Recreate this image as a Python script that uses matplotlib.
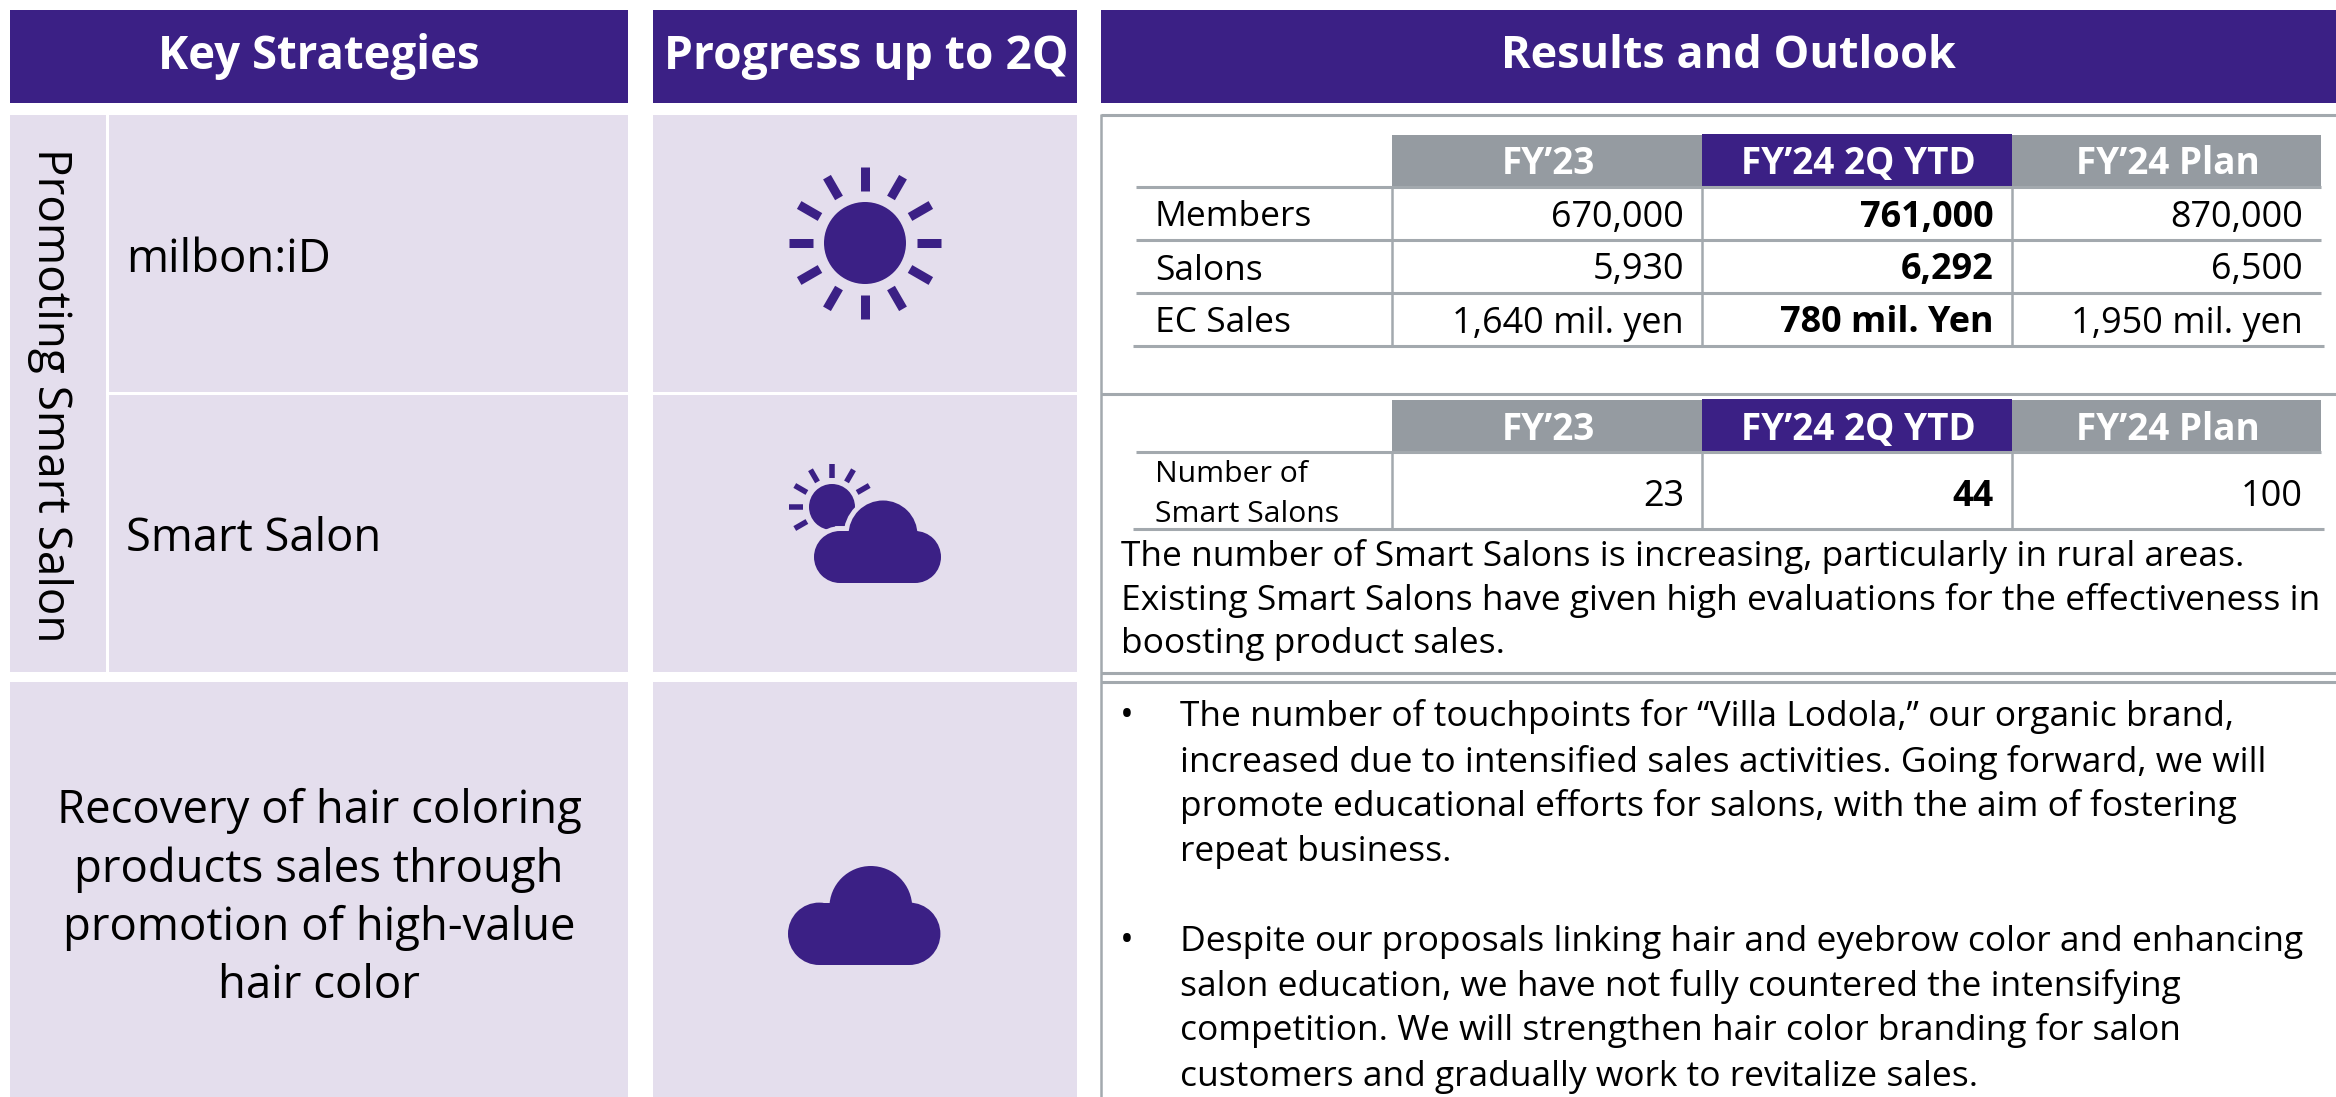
import matplotlib
matplotlib.use('Agg')
import matplotlib.pyplot as plt
from matplotlib.patches import Rectangle, Circle
import numpy as np

plt.rcParams['font.family'] = ['Open Sans', 'DejaVu Sans']

W, H = 2336, 1097
PURPLE = '#3B2085'
LIGHT = '#E4DEED'
GREY = '#959BA1'
LINE = '#A3A9AE'

# Text and values
headers = ['Key Strategies', 'Progress up to 2Q', 'Results and Outlook']
group_label = 'Promoting Smart Salon'
strategies = ['milbon:iD', 'Smart Salon']
recovery_text = ['Recovery of hair coloring', 'products sales through',
                 'promotion of high-value', 'hair color']
table_cols = ['FY\u201923', 'FY\u201924 2Q YTD', 'FY\u201924 Plan']
table1_rows = ['Members', 'Salons', 'EC Sales']
fy23_vals = ['670,000', '5,930', '1,640 mil. yen']
ytd_vals = ['761,000', '6,292', '780 mil. Yen']
plan_vals = ['870,000', '6,500', '1,950 mil. yen']
table2_row = ['Number of', 'Smart Salons']
table2_vals = ['23', '44', '100']
salon_note = ['The number of Smart Salons is increasing, particularly in rural areas.',
              'Existing Smart Salons have given high evaluations for the effectiveness in',
              'boosting product sales.']
bullet1 = ['The number of touchpoints for \u201cVilla Lodola,\u201d our organic brand,',
           'increased due to intensified sales activities. Going forward, we will',
           'promote educational efforts for salons, with the aim of fostering',
           'repeat business.']
bullet2 = ['Despite our proposals linking hair and eyebrow color and enhancing',
           'salon education, we have not fully countered the intensifying',
           'competition. We will strengthen hair color branding for salon',
           'customers and gradually work to revitalize sales.']

fig = plt.figure(figsize=(W / 100, H / 100), dpi=100)
ax = fig.add_axes([0, 0, 1, 1])
ax.set_xlim(0, W)
ax.set_ylim(H, 0)
ax.axis('off')


def box(x0, y0, x1, y1, color, z=1):
    ax.add_patch(Rectangle((x0, y0), x1 - x0, y1 - y0, fc=color, ec='none', zorder=z))


def hline(x0, x1, y, lw=2.2):
    ax.plot([x0, x1], [y, y], color=LINE, lw=lw, solid_capstyle='butt', zorder=3)


def vline(x, y0, y1, lw=1.8):
    ax.plot([x, x], [y0, y1], color=LINE, lw=lw, solid_capstyle='butt', zorder=3)


def rays(cx, cy, r0, r1, width, angles):
    for a in np.deg2rad(angles):
        ax.plot([cx + r0 * np.cos(a), cx + r1 * np.cos(a)],
                [cy - r0 * np.sin(a), cy - r1 * np.sin(a)],
                color=PURPLE, lw=width * 0.72, solid_capstyle='butt', zorder=4)


def cloud(left, bottom, s, halo=False):
    # three lobes plus a flat base, s=1 is the small cloud
    parts = [Circle((left + 26 * s, bottom - 26 * s), 26 * s),
             Circle((left + 101 * s, bottom - 26 * s), 26 * s),
             Circle((left + 69 * s, bottom - 48 * s), 34.5 * s),
             Rectangle((left + 26 * s, bottom - 52 * s), 75 * s, 52 * s)]
    if halo:
        for q in parts:
            if isinstance(q, Circle):
                p = Circle(q.center, q.radius)
            else:
                p = Rectangle(q.get_xy(), q.get_width(), q.get_height())
            p.set(fc=LIGHT, ec=LIGHT, lw=7, zorder=4.5)
            ax.add_patch(p)
    for p in parts:
        p.set(fc=PURPLE, ec='none', zorder=5)
        ax.add_patch(p)


# header bars
box(10, 10, 628, 103, PURPLE)
box(653, 10, 1077, 103, PURPLE)
box(1101, 10, W, 103, PURPLE)
for x, label, size in zip([319, 866, 1728], headers, [32.8, 33.2, 32.4]):
    ax.text(x, 57, label, color='white', fontsize=size, fontweight='bold', ha='center', va='center')

# left cells
box(10, 115, 106, 672, LIGHT)
box(109, 115, 628, 392, LIGHT)
box(109, 395, 628, 672, LIGHT)
box(653, 115, 1077, 392, LIGHT)
box(653, 395, 1077, 672, LIGHT)
box(10, 682, 628, H, LIGHT)
box(653, 682, 1077, H, LIGHT)

ax.text(50, 395, group_label, fontsize=33, rotation=270, ha='center', va='center', color='black')
ax.text(126, 260, strategies[0], fontsize=32.8, va='center', color='black')
ax.text(126, 539, strategies[1], fontsize=32.6, va='center', color='black')
for y, line in zip([811, 870, 928, 986], recovery_text):
    ax.text(319, y, line, fontsize=32.8, ha='center', va='center', color='black')

# weather icons
ax.add_patch(Circle((865, 243), 41, fc=PURPLE, ec='none', zorder=4))
rays(865, 243, 52, 76, 9, np.arange(0, 360, 30))
ax.add_patch(Circle((832, 507), 23, fc=PURPLE, ec='none', zorder=4))
rays(832, 507, 29, 43, 5.5, [30, 60, 90, 120, 150, 180, 210])
cloud(814, 583, 1, halo=True)
cloud(788, 965, 1.2)

# right side frames
vline(1101, 114, H)
hline(1101, W, 115)
hline(1101, W, 394)
hline(1101, W, 673)
hline(1101, W, 682)

col_x = [1392, 1702, 2012, 2321]


def table_head(y0, y1):
    box(col_x[0], y0 + 1, col_x[1], y1, GREY, 2)
    box(col_x[1], y0, col_x[2], y1, PURPLE, 2)
    box(col_x[2], y0 + 1, col_x[3], y1, GREY, 2)
    for i, label in enumerate(table_cols):
        ax.text((col_x[i] + col_x[i + 1]) / 2 + 1, (y0 + y1) / 2 + 4, label, color='white',
                fontsize=26.6, fontweight='bold', ha='center', va='center', zorder=4)


# first table
table_head(134, 187)
row_lines = [187, 240, 293, 346]
for y in row_lines[:3]:
    hline(1136, 2321, y)
hline(1133, 2324, row_lines[3])
for x in col_x[:3]:
    vline(x, 187, 347)
columns = [fy23_vals, ytd_vals, plan_vals]
for r, name in enumerate(table1_rows):
    yc = (row_lines[r] + row_lines[r + 1]) / 2 + 4
    ax.text(1155, yc, name, fontsize=25.5, va='center', color='black')
    for c, vals in enumerate(columns):
        ax.text(col_x[c + 1] - 18, yc, vals[r], fontsize=25.9, ha='right', va='center', color='black',
                fontweight='bold' if c == 1 else 'normal')

# second table
table_head(399, 452)
hline(1136, 2321, 452)
hline(1133, 2324, 529)
for x in col_x[:3]:
    vline(x, 452, 530)
ax.text(1155, 475, table2_row[0], fontsize=21.7, va='center', color='black')
ax.text(1155, 514, table2_row[1], fontsize=21.7, va='center', color='black')
for c, val in enumerate(table2_vals):
    ax.text(col_x[c + 1] - 18, 497, val, fontsize=25.9, ha='right', va='center', color='black',
            fontweight='bold' if c == 1 else 'normal')

# note under table
for y, line in zip([556, 600, 644], salon_note):
    ax.text(1121, y, line, fontsize=25.5, va='center', color='black')

# bullets
for y, line in zip([717, 762, 807, 852], bullet1):
    ax.text(1180, y, line, fontsize=25.5, va='center', color='black')
for y, line in zip([942, 987, 1031, 1077], bullet2):
    ax.text(1180, y, line, fontsize=25.5, va='center', color='black')
for y in [717, 942]:
    ax.text(1127, y, '\u2022', fontsize=26.5, ha='center', va='center', color='black')

fig.savefig('out.png', dpi=100)
